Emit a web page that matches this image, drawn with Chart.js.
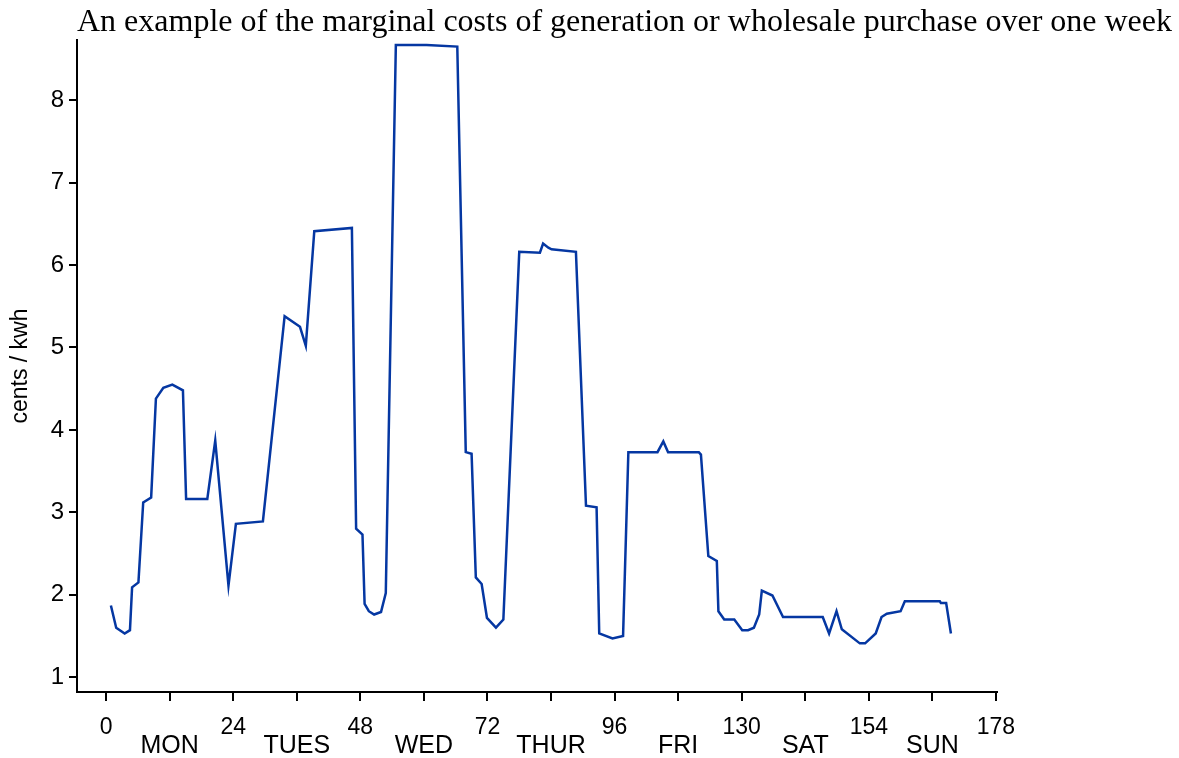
<!DOCTYPE html>
<html lang="en">
    <head>
        <meta charset="UTF-8" />
        <title>Marginal costs over one week</title>
        <script src="https://cdn.jsdelivr.net/npm/chart.js"></script>
        <style>
            html, body { margin: 0; padding: 0; background: #fff; }
            #wrap { width: 1179px; height: 758px; }
        </style>
    </head>
    <body>
        <div id="wrap"><canvas id="chartCosts"></canvas></div>

        <script>
            const chartTitle = "An example of the marginal costs of generation or wholesale purchase over one week";

            // hour of the week and cost (cents / kwh)
            const hours = [
                0.9, 1.9, 3.5, 4.5, 4.9, 6.1, 7.0, 8.5, 9.4, 10.8,
                12.5, 14.5, 15.1, 19.1, 20.6, 23.1, 24.5, 29.6, 33.7, 36.6,
                37.7, 39.3, 46.4, 47.2, 48.4, 48.8, 49.6, 50.6, 51.9, 52.8,
                54.7, 60.5, 66.3, 67.9, 69.0, 69.8, 70.9, 71.9, 73.6, 75.0,
                78.0, 81.9, 82.5, 83.5, 84.1, 88.7, 90.6, 92.6, 93.1, 95.6,
                97.6, 98.6, 104.1, 105.2, 106.1, 111.9, 112.3, 113.7, 115.3, 115.6,
                116.7, 118.6, 120.1, 121.2, 122.3, 123.3, 123.8, 125.8, 127.8, 135.3,
                136.5, 137.9, 138.9, 142.3, 143.3, 145.3, 146.4, 147.4, 150.0, 150.8,
                157.4, 157.6, 158.6, 159.5
            ];
            const costs = [
                1.87, 1.60, 1.53, 1.57, 2.09, 2.15, 3.12, 3.18, 4.38, 4.51,
                4.55, 4.48, 3.16, 3.16, 3.87, 2.11, 2.86, 2.89, 5.38, 5.25,
                5.02, 6.41, 6.45, 2.80, 2.73, 1.89, 1.80, 1.76, 1.79, 2.02,
                8.67, 8.67, 8.65, 3.73, 3.71, 2.21, 2.13, 1.72, 1.60, 1.70,
                6.16, 6.15, 6.26, 6.21, 6.19, 6.16, 3.08, 3.06, 1.53, 1.47,
                1.50, 3.73, 3.73, 3.86, 3.73, 3.73, 3.70, 2.47, 2.41, 1.80,
                1.70, 1.70, 1.57, 1.57, 1.60, 1.76, 2.05, 1.99, 1.73, 1.73,
                1.53, 1.80, 1.58, 1.41, 1.41, 1.53, 1.73, 1.77, 1.80, 1.92,
                1.92, 1.90, 1.90, 1.53
            ];

            // x ticks every 12 h: numbers on the day boundaries, day names between
            const xTicks = [0, 12, 24, 36, 48, 60, 72, 84, 96, 108, 120, 132, 144, 156, 168];
            const hourLabels = ["0", "24", "48", "72", "96", "130", "154", "178"];
            const dayLabels = ["MON", "TUES", "WED", "THUR", "FRI", "SAT", "SUN"];
            const yTicks = [1, 2, 3, 4, 5, 6, 7, 8];

            // title starts at the left edge of the plot
            const titlePlugin = {
                id: "leftTitle",
                afterDraw(chart) {
                    const ctx = chart.ctx;
                    ctx.save();
                    ctx.font = "32px 'Liberation Serif', 'Times New Roman', serif";
                    ctx.fillStyle = "#000";
                    ctx.textBaseline = "alphabetic";
                    ctx.textAlign = "left";
                    ctx.fillText(chartTitle, chart.chartArea.left, 31);
                    ctx.restore();
                },
            };

            const axisFont = "'Liberation Sans', Arial, sans-serif";

            new Chart(document.getElementById("chartCosts"), {
                type: "line",
                data: {
                    datasets: [
                        {
                            data: hours.map((h, i) => ({ x: h, y: costs[i] })),
                            borderColor: "#0537a2",
                            borderWidth: 2.5,
                            pointRadius: 0,
                            tension: 0,
                            fill: false,
                        },
                    ],
                },
                options: {
                    responsive: true,
                    maintainAspectRatio: false,
                    animation: false,
                    layout: { padding: { top: 40, right: 182, left: 0, bottom: 0 } },
                    plugins: {
                        legend: { display: false },
                        tooltip: { enabled: false },
                    },
                    scales: {
                        x: {
                            type: "linear",
                            min: -5.5,
                            max: 168.2,
                            afterFit: (s) => { s.height = 66; },
                            afterBuildTicks: (s) => { s.ticks = xTicks.map((v) => ({ value: v })); },
                            border: { color: "#000", width: 2 },
                            grid: { drawOnChartArea: false, color: "#000", lineWidth: 2, tickLength: 9 },
                            ticks: {
                                color: "#000",
                                maxRotation: 0,
                                autoSkip: false,
                                padding: 15,
                                font: (c) => c.index % 2
                                    ? { family: axisFont, size: 25, lineHeight: 0.8 }
                                    : { family: axisFont, size: 23, lineHeight: 1 },
                                callback: (v, i) => i % 2 ? ["", dayLabels[(i - 1) / 2]] : hourLabels[i / 2],
                            },
                        },
                        y: {
                            min: 0.82,
                            max: 8.73,
                            afterFit: (s) => { s.width = 77; },
                            afterBuildTicks: (s) => { s.ticks = yTicks.map((v) => ({ value: v })); },
                            border: { color: "#000", width: 2 },
                            grid: { drawOnChartArea: false, color: "#000", lineWidth: 2, tickLength: 8 },
                            ticks: {
                                color: "#000",
                                padding: 5,
                                font: { family: axisFont, size: 24 },
                            },
                            title: {
                                display: true,
                                text: "cents / kwh",
                                color: "#000",
                                padding: { top: 7, bottom: 0 },
                                font: { family: axisFont, size: 23 },
                            },
                        },
                    },
                },
                plugins: [titlePlugin],
            });
        </script>
    </body>
</html>
